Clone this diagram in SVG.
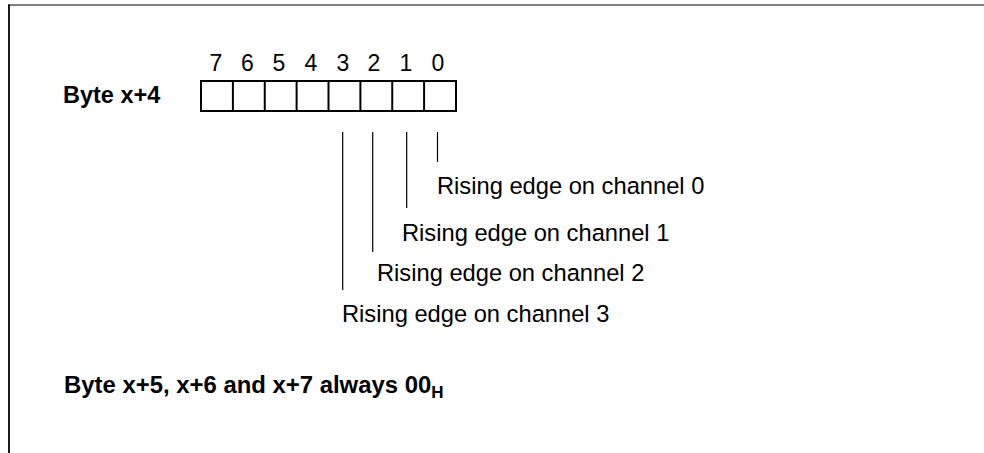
<svg xmlns="http://www.w3.org/2000/svg" width="984" height="453" viewBox="0 0 984 453">
<style>
text{font-family:"Liberation Sans",Arial,Helvetica,sans-serif;fill:#000}
.b{font-weight:bold;font-size:23.5px}
.n{font-size:23.7px}
.d{font-size:23px;text-anchor:middle}
.cell{fill:#fff;stroke:#000;stroke-width:2}
.ln{stroke:#000;stroke-width:1.2;fill:none}
</style>
<rect width="984" height="453" fill="#fff"/>
<g id="frame">
<line x1="8" y1="5" x2="984" y2="5" stroke="#555" stroke-width="1.6"/>
<line x1="9" y1="4.5" x2="9" y2="453" stroke="#000" stroke-width="1.8"/>
</g>
<g id="byte4">
<text class="b" x="63" y="103">Byte x+4</text>
<rect class="cell" x="201" y="81" width="255" height="30"/>
<line class="cell" x1="232.9" y1="81" x2="232.9" y2="111"/>
<line class="cell" x1="264.75" y1="81" x2="264.75" y2="111"/>
<line class="cell" x1="296.6" y1="81" x2="296.6" y2="111"/>
<line class="cell" x1="328.5" y1="81" x2="328.5" y2="111"/>
<line class="cell" x1="360.4" y1="81" x2="360.4" y2="111"/>
<line class="cell" x1="392.25" y1="81" x2="392.25" y2="111"/>
<line class="cell" x1="424.1" y1="81" x2="424.1" y2="111"/>
</g>
<g id="bitnumbers">
<text class="d" x="216" y="71">7</text>
<text class="d" x="247.5" y="71">6</text>
<text class="d" x="279" y="71">5</text>
<text class="d" x="311" y="71">4</text>
<text class="d" x="343" y="71">3</text>
<text class="d" x="374" y="71">2</text>
<text class="d" x="406" y="71">1</text>
<text class="d" x="438" y="71">0</text>
</g>
<g id="connectors">
<line class="ln" x1="437.5" y1="132" x2="437.5" y2="162"/>
<line class="ln" x1="406.7" y1="132" x2="406.7" y2="208"/>
<line class="ln" x1="372.7" y1="132" x2="372.7" y2="252"/>
<line class="ln" x1="342.7" y1="132" x2="342.7" y2="290"/>
</g>
<g id="ch0"><text class="n" x="437" y="194">Rising edge on channel 0</text></g>
<g id="ch1"><text class="n" x="402" y="241">Rising edge on channel 1</text></g>
<g id="ch2"><text class="n" x="377" y="281">Rising edge on channel 2</text></g>
<g id="ch3"><text class="n" x="342" y="322">Rising edge on channel 3</text></g>
<g id="note"><text class="b" x="64" y="393" style="font-size:23.9px">Byte x+5, x+6 and x+7 always 00<tspan style="font-size:17px" dy="5">H</tspan></text></g>
</svg>
